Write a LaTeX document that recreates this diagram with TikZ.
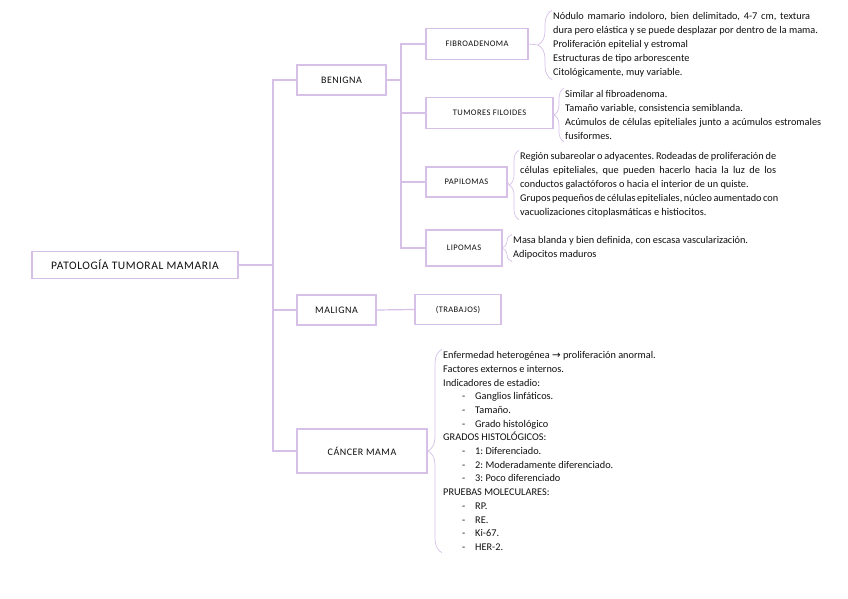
\documentclass[tikz,border=0pt]{standalone}
\usepackage{fontspec}
\setmainfont{Carlito}
\newfontfamily\rotulo[LetterSpace=5]{Carlito}
\newfontfamily\flecha{DejaVu Sans}
\usetikzlibrary{decorations.pathreplacing}

\definecolor{lila}{RGB}{214,192,232}
\definecolor{tinta}{RGB}{15,15,15}

\tikzstyle{raiz} = [rectangle, draw=lila, line width=1.2pt, minimum width=206pt, minimum height=27pt, text centered, font=\rotulo\fontsize{11.5}{13}\selectfont, text=tinta]
\tikzstyle{rama} = [rectangle, draw=lila, line width=1.2pt, minimum height=30pt, text centered, font=\rotulo\fontsize{10}{12}\selectfont, text=tinta]
\tikzstyle{hoja} = [rectangle, draw=lila, line width=1.2pt, minimum height=31pt, text centered, font=\rotulo\fontsize{8.5}{10}\selectfont, text=tinta]
\tikzstyle{nota} = [anchor=west, align=left, inner xsep=0pt, inner ysep=2pt, font=\fontsize{10.3}{14}\selectfont, text=tinta]
\tikzstyle{enlace} = [draw=lila, line width=1.2pt]
\tikzstyle{tick} = [draw=lila, line width=0.7pt]
\tikzstyle{llave} = [draw=lila, line width=0.7pt, decorate, decoration={brace, amplitude=10pt}]
\tikzstyle{llaveancha} = [draw=lila, line width=0.7pt, decorate, decoration={brace, amplitude=14pt}]

\newcommand{\justa}[2]{\makebox[#1][s]{#2}}
\newcommand{\vineta}[1]{\hspace*{19pt}\makebox[13pt][l]{-}#1}

\begin{document}
\frenchspacing
\begin{tikzpicture}[x=1pt, y=-1pt]
\useasboundingbox (0,0) rectangle (848,599);

\node (raiz) [raiz] at (135,265) {PATOLOGÍA TUMORAL MAMARIA};
\node (benigna) [rama, minimum width=89pt] at (341.5,80) {BENIGNA};
\node (maligna) [rama, minimum width=79pt] at (336.5,310) {MALIGNA};
\node (cancer) [rama, minimum width=130pt, minimum height=44pt] at (362,451) {CÁNCER MAMA};

\node (fibro) [hoja, minimum width=102pt] at (477,44) {FIBROADENOMA};
\node (filoides) [hoja, minimum width=127pt] at (489.5,113) {TUMORES FILOIDES};
\node (papilomas) [hoja, minimum width=81pt, minimum height=30pt] at (466.5,182) {PAPILOMAS};
\node (lipomas) [hoja, minimum width=76pt, minimum height=36pt] at (464,248) {LIPOMAS};
\node (trabajos) [hoja, minimum width=86pt, minimum height=30pt] at (458,309.5) {(TRABAJOS)};

%% textos
\node (fibrotxt) [nota] at (553,45) {\justa{257pt}{Nódulo mamario indoloro, bien delimitado, 4-7 cm, textura}\\
dura pero elástica y se puede desplazar por dentro de la mama.\\
Proliferación epitelial y estromal\\
Estructuras de tipo arborescente\\
Citológicamente, muy variable.};
\node (filoidestxt) [nota] at (565,115) {Similar al fibroadenoma.\\
Tamaño variable, consistencia semiblanda.\\
\justa{256pt}{Acúmulos de células epiteliales junto a acúmulos estromales}\\
fusiformes.};
\node (papilomastxt) [nota] at (520,185) {\justa{256pt}{Región subareolar o adyacentes. Rodeadas de proliferación de}\\
\justa{256pt}{células epiteliales, que pueden hacerlo hacia la luz de los}\\
conductos galactóforos o hacia el interior de un quiste.\\
\justa{256pt}{Grupos pequeños de células epiteliales, núcleo aumentado con}\\
vacuolizaciones citoplasmáticas e histiocitos.};
\node (lipomastxt) [nota] at (513,248) {Masa blanda y bien definida, con escasa vascularización.\\
Adipocitos maduros};
\node (cancertxt) [nota, font=\fontsize{10.3}{13.7}\selectfont] at (443,451) {Enfermedad heterogénea {\flecha →} proliferación anormal.\\
Factores externos e internos.\\
Indicadores de estadio:\\
\vineta{Ganglios linfáticos.}\\
\vineta{Tamaño.}\\
\vineta{Grado histológico}\\
GRADOS HISTOLÓGICOS:\\
\vineta{1: Diferenciado.}\\
\vineta{2: Moderadamente diferenciado.}\\
\vineta{3: Poco diferenciado}\\
PRUEBAS MOLECULARES:\\
\vineta{RP.}\\
\vineta{RE.}\\
\vineta{Ki-67.}\\
\vineta{HER-2.}};

%% llaves
\draw [llaveancha] ([xshift=-1pt]fibrotxt.south west) -- ([xshift=-1pt]fibrotxt.north west);
\draw [llave] ([xshift=-1pt]filoidestxt.south west) -- ([xshift=-1pt]filoidestxt.north west);
\draw [llave] ([xshift=-1pt]papilomastxt.south west) -- ([xshift=-1pt]papilomastxt.north west);
\draw [llave] ([xshift=-1pt]lipomastxt.south west) -- ([xshift=-1pt]lipomastxt.north west);
\draw [llaveancha] ([xshift=-1pt]cancertxt.south west) -- ([xshift=-1pt]cancertxt.north west);
\coordinate (fibrotip) at ([xshift=-15pt]fibrotxt.west);
\coordinate (filoidestip) at ([xshift=-11pt]filoidestxt.west);
\coordinate (papilomastip) at ([xshift=-11pt]papilomastxt.west);
\coordinate (lipomastip) at ([xshift=-11pt]lipomastxt.west);
\coordinate (cancertip) at ([xshift=-15pt]cancertxt.west);
\draw [tick] (fibro.east) -- (fibrotip);
\draw [tick] (filoides.east) -- (filoidestip);
\draw [tick] (papilomas.east) -- (papilomastip);
\draw [tick] (lipomas.east) -- (lipomastip);
\draw [tick] (cancer.east) -- (cancertip);

%% conexiones
\coordinate (tronco) at (273,265);
\draw [enlace] (raiz.east) -- (tronco);
\draw [enlace] (tronco) |- (benigna.west);
\draw [enlace] (tronco) |- (maligna.west);
\draw [enlace] (tronco) |- (cancer.west);
\coordinate (tronco2) at (401,80);
\draw [enlace] (benigna.east) -- (tronco2);
\draw [enlace] (tronco2) |- (fibro.west);
\draw [enlace] (tronco2) |- (filoides.west);
\draw [enlace] (tronco2) |- (papilomas.west);
\draw [enlace] (tronco2) |- (lipomas.west);
\draw [enlace] (maligna.east) -- (trabajos.west);

\end{tikzpicture}
\end{document}
